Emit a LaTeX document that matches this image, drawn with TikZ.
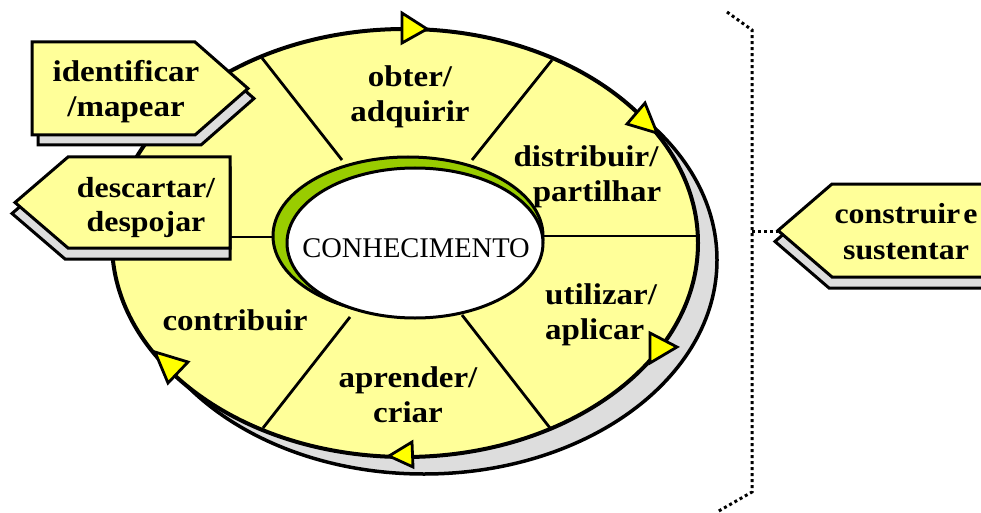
\documentclass[tikz,border=0pt]{standalone}
\usepackage{fontspec}
\setmainfont{Liberation Serif}
\newfontfamily\lblfont[FakeStretch=1.1]{Liberation Serif}
\definecolor{ltyellow}{RGB}{255,255,153}
\definecolor{shgray}{RGB}{221,221,221}
\definecolor{kgreen}{RGB}{153,204,0}
\definecolor{arryellow}{RGB}{255,255,0}
\begin{document}
\begin{tikzpicture}[x=1pt,y=-1pt,
  lbl/.style={font=\lblfont\fontsize{30}{35}\selectfont\bfseries, align=center, inner sep=0pt},
  tagbox/.style={fill=ltyellow, draw=black, line width=3pt, line join=miter},
  tagshadow/.style={fill=shgray, draw=black, line width=3pt, line join=miter},
  divider/.style={line width=2.8pt},
  arrowtri/.style={fill=arryellow, draw=black, line width=2.8pt, line join=miter},
  dotline/.style={line width=3pt, dash pattern=on 3pt off 3pt}]
\useasboundingbox (0,0) rectangle (981,513);
% outer ring with shadow
\draw[fill=shgray, line width=3.5pt] (424,260) ellipse [x radius=293pt, y radius=214pt];
\draw[fill=ltyellow, line width=4pt] (405,243) ellipse [x radius=293pt, y radius=214pt];
% dividers
\draw[divider] (262,58) -- (342,160);
\draw[divider] (552,60) -- (472,160);
\draw[divider] (540,236) -- (698,236);
\draw[divider] (462,315) -- (550,428);
\draw[divider] (350,317) -- (263,428);
\draw[divider] (112,237) -- (275,237);
% centre
\draw[fill=kgreen, line width=3pt] (408,236) ellipse [x radius=135pt, y radius=79pt];
\draw[fill=white, line width=3pt] (415,243) ellipse [x radius=128pt, y radius=75pt];
\node[font=\fontsize{28.5}{30}\selectfont, inner sep=0pt] (con) at (416,248) {CONHECIMENTO};
% sector labels
\node[lbl] (obter) at (410,97) {obter/\\adquirir};
\node[lbl] (distr) at (586,176.5) {distribuir/\\\hspace*{22pt}partilhar};
\node[lbl, align=left, anchor=west] (util) at (545,314.5) {utilizar/\\aplicar};
\node[lbl] (apren) at (408,395) {aprender/\\criar};
\node[lbl] (contr) at (235,320.5) {contribuir};
% arrowheads
\draw[arrowtri] (402,13) -- (402,43) -- (427,29) -- cycle;
\draw[arrowtri] (627,124) -- (645,103) -- (657,133) -- cycle;
\draw[arrowtri] (650,333) -- (650,363) -- (677,347) -- cycle;
\draw[arrowtri] (412,442) -- (413,467) -- (389,456) -- cycle;
\draw[arrowtri] (155,352) -- (188,362) -- (168,383) -- cycle;
% tag identificar
\draw[tagshadow] (38,52) -- (201,52) -- (254,98.5) -- (201,145) -- (38,145) -- cycle;
\draw[tagbox] (32,42) -- (195,42) -- (248,88.5) -- (195,135) -- (32,135) -- cycle;
\node[lbl] (ident) at (126,91.5) {identificar\\/mapear};
% tag descartar
\draw[tagshadow] (65,168) -- (230,168) -- (230,259) -- (65,259) -- (12,213.5) -- cycle;
\draw[tagbox] (68,157) -- (230,157) -- (230,248) -- (68,248) -- (15,202.5) -- cycle;
\node[lbl, font=\lblfont\fontsize{29}{34}\selectfont\bfseries] (desc) at (146,207.5) {descartar/\\despojar};
% tag construir
\draw[tagshadow] (829,195) -- (1000,195) -- (1000,288) -- (829,288) -- (775,241.5) -- cycle;
\draw[tagbox] (832,184) -- (1000,184) -- (1000,277) -- (832,277) -- (778,230.5) -- cycle;
\coordinate (constip) at (778,231);
\node[lbl, font=\lblfont\fontsize{29}{36}\selectfont\bfseries] (cons) at (906,232) {construir\hspace{0.1em}e\\sustentar};
% dotted bracket
\draw[dotline] (727,12) -- (752,30) -- (752,492) -- (717,512);
\coordinate (brk) at (752,231);
\draw[dotline] (brk) -- (constip);
\end{tikzpicture}
\end{document}
